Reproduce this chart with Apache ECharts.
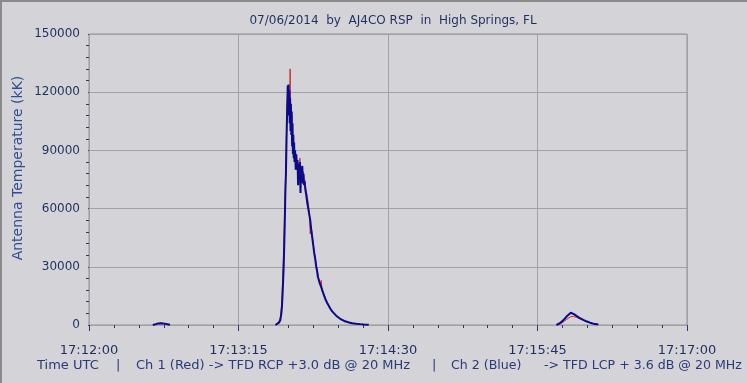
<!DOCTYPE html>
<html><head><meta charset="utf-8">
<script src="https://cdn.jsdelivr.net/npm/echarts@6/dist/echarts.min.js"></script>
<style>html,body{margin:0;padding:0;background:#d4d4d8;}#c{width:747px;height:383px;}</style>
</head><body><div id="c"></div>
<script>
// time in seconds after 17:12:00 UTC, value in kK
const xTickLabels = ['17:12:00','17:13:15','17:14:30','17:15:45','17:17:00'];
const yTicks = [0,30000,60000,90000,120000,150000];

const redBump1 = [[33,0],[34,500],[35,900],[36,1000],[37,900],[38,600],[39,200],[39.6,0]];
const blueBump1 = [[32,0],[33,300],[34,600],[35,700],[36,900],[37,800],[38,700],[39,500],[40,300],[40.6,0]];

const redMain = [[93.5,0],[94.5,400],[95.3,1800],[96,4000],[96.5,9000],[96.8,14000],[97.2,25000],[97.7,40000],[98.2,60000],[98.5,72000],[98.8,88000],[99.1,100000],[99.4,114000],[99.7,120000],[99.9,112000],[100.1,122000],[100.3,110000],[100.5,118000],[100.7,106000],[100.9,132000],[101.1,102000],[101.3,112000],[101.5,100000],[101.7,108000],[101.9,94000],[102.1,102000],[102.3,90000],[102.5,96000],[102.7,88000],[102.9,92000],[103.1,85000],[103.4,89000],[103.7,82000],[104.0,87000],[104.3,80000],[104.6,84000],[104.9,75000],[105.2,82000],[105.5,79000],[105.8,86000],[106.1,70000],[106.4,82000],[106.7,77000],[107.0,81000],[107.3,75000],[107.6,79000],[107.9,73000],[108.2,75000],[108.5,72000],[109.0,69000],[109.5,66000],[110.0,63000],[110.5,58000],[111.0,47000],[111.5,51000],[112.0,46000],[112.5,42000],[113.0,38000],[113.5,35000],[114.0,31000],[114.4,28500],[114.8,26500],[115.2,24000],[115.6,23500],[116.0,21000],[116.5,23000],[117.0,17000],[117.5,17500],[118.0,15500],[118.7,13500],[119.4,12000],[120.2,10300],[121.0,8800],[122.0,7200],[122.8,6200],[124.0,5000],[125.0,4000],[126.0,3300],[127.0,2700],[128.0,2200],[129.0,1800],[130.5,1300],[132.0,950],[134.0,650],[136.0,450],[138.0,300],[140.3,150]];

const blueMain = [[93.5,0],[94.5,300],[95.3,1200],[96,2600],[96.5,6000],[96.8,9400],[97.2,18000],[97.7,31000],[98.2,52000],[98.5,68000],[98.8,78000],[99.1,96000],[99.4,110000],[99.7,123500],[99.9,118000],[100.1,124000],[100.3,108000],[100.5,121000],[100.7,104000],[100.9,117000],[101.1,100000],[101.3,114000],[101.5,98000],[101.7,110000],[101.9,92000],[102.1,104000],[102.3,88000],[102.5,98000],[102.7,86000],[102.9,94000],[103.1,84000],[103.4,90000],[103.7,80000],[104.0,88000],[104.3,81000],[104.6,85000],[104.9,72000],[105.2,83000],[105.5,78000],[105.8,84000],[106.1,68000],[106.4,81000],[106.7,76000],[107.0,82000],[107.3,73000],[107.6,78000],[107.9,72000],[108.2,74000],[108.5,70000],[109.0,67000],[109.5,63000],[110.0,60000],[110.5,57000],[111.0,54000],[111.5,49000],[112.0,45000],[112.5,41000],[113.0,37000],[113.5,34000],[114.0,30000],[114.4,28000],[114.8,25000],[115.2,26000],[115.6,22000],[116.0,22500],[116.5,19500],[117.0,18500],[117.5,16500],[118.0,15000],[118.7,13000],[119.4,11500],[120.2,10000],[121.0,8500],[122.0,7000],[122.8,6000],[124.0,4800],[125.0,3900],[126.0,3200],[127.0,2600],[128.0,2100],[129.0,1700],[130.5,1300],[132.0,900],[134.0,650],[136.0,450],[138.0,300],[140.3,150]];

const redBump2 = [[235,0],[236.5,600],[238,1600],[239.5,2800],[240.5,3700],[241.7,4300],[243,4400],[244.5,4000],[246,3300],[247.5,2600],[249,1900],[251,1200],[253,700],[255.5,300]];
const blueBump2 = [[234.5,0],[236,800],[237.5,2000],[239,3600],[240,4800],[241,5800],[241.7,6300],[242.5,6200],[243.5,5500],[244.7,4600],[246,3700],[247,3100],[248,2600],[249.5,1900],[251.4,1200],[253,700],[255.5,300]];

const titleText = '07/06/2014  by  AJ4CO RSP  in  High Springs, FL';
const footerParts = ['Time UTC', '|', 'Ch 1 (Red) -> TFD RCP +3.0 dB @ 20 MHz', '|', 'Ch 2 (Blue)', '-> TFD LCP + 3.6 dB @ 20 MHz'];
const yAxisTitle = 'Antenna Temperature (kK)';

function joinSegs(segs){ const out=[]; segs.forEach((s,i)=>{ if(i) out.push([null,null]); s.forEach(p=>out.push(p)); }); return out; }
const redData = joinSegs([redBump1, redMain, redBump2]);
const blueData = joinSegs([blueBump1, blueMain, blueBump2]);

const FONT = 'DejaVu Sans';
const TXT = '#1f2f5f';
const footerX = [37, 116, 136, 432, 451, 544];
const footerSize = [13, 13, 13, 13, 12.6, 12.6];
const chart = echarts.init(document.getElementById('c'), null, {renderer:'canvas'});
chart.setOption({
  backgroundColor:'#d4d4d8',
  animation:false,
  title:{text:titleText, left:388, top:10, textAlign:'center',
    textStyle:{fontFamily:FONT, fontSize:12, fontWeight:'normal', color:TXT}},
  grid:{left:89, right:60, top:34, bottom:58, show:true, borderColor:'#929292', borderWidth:1, backgroundColor:'transparent'},
  xAxis:{type:'value', min:0, max:300, interval:75, offset:5,
    axisLine:{show:false},
    axisTick:{show:true, length:6, lineStyle:{color:'#2a3a6a', width:1}},
    minorTick:{show:true, splitNumber:6, length:3, lineStyle:{color:'#2a3a6a', width:1}},
    splitLine:{show:true, lineStyle:{color:'#a2a2a6', width:1}},
    axisLabel:{margin:14, fontFamily:FONT, fontSize:13, color:TXT,
      formatter:(v)=>xTickLabels[Math.round(v/75)]}},
  yAxis:{type:'value', min:yTicks[0], max:yTicks[yTicks.length-1], interval:30000, offset:4,
    axisLine:{show:false},
    axisTick:{show:true, length:1, lineStyle:{color:'#2a3a6a'}},
    minorTick:{show:true, splitNumber:5, length:3, lineStyle:{color:'#2a3a6a'}},
    splitLine:{show:true, lineStyle:{color:'#a2a2a6', width:1}},
    axisLabel:{margin:5, fontFamily:FONT, fontSize:12, color:TXT, formatter:(v)=>String(v)}},
  graphic:[
    ...footerParts.map((t,i)=>({type:'text', x:footerX[i], y:366, style:{text:t, font:footerSize[i]+'px '+FONT, fill:'#2a3a7a', textVerticalAlign:'middle'}})),
    {type:'text', x:18, y:168, rotation:Math.PI/2, style:{text:yAxisTitle, font:'14px '+FONT, fill:'#2f4f8f', textAlign:'center', textVerticalAlign:'middle'}},
    {type:'line', shape:{x1:0,y1:1,x2:747,y2:1}, style:{stroke:'#8a8a8a', lineWidth:2}},
    {type:'line', shape:{x1:1,y1:0,x2:1,y2:383}, style:{stroke:'#8a8a8a', lineWidth:2}}
  ],
  series:[
    {type:'line', data:redData, showSymbol:false, connectNulls:false, lineStyle:{color:'#cc2a2a', width:1}, z:3},
    {type:'line', data:blueData, showSymbol:false, connectNulls:false, lineStyle:{color:'#0a0a8a', width:2}, z:4}
  ]
});
</script></body></html>
